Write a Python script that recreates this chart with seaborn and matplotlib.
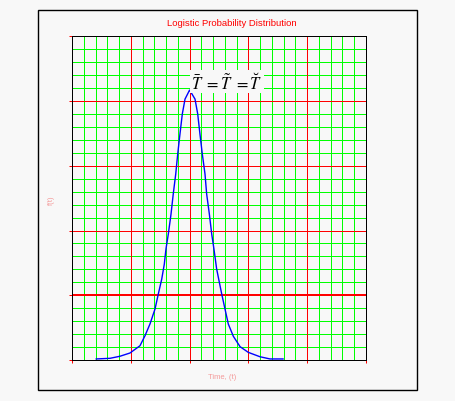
import matplotlib
matplotlib.use("Agg")
import matplotlib.pyplot as plt
from matplotlib.patches import Rectangle
from matplotlib.ticker import MultipleLocator, NullFormatter, NullLocator
import seaborn as sns
import pandas as pd
import numpy as np

# Data
time_t = [20.4, 32.3, 40.8, 49.3, 57.8, 62.1, 66.3, 70.6, 73.4, 76.3, 78.5, 79.9,
          81.9, 84.2, 86.1, 88.2, 89.9, 91.8, 93.8, 96.1, 100.0,
          104.6, 106.9, 108.8, 110.8, 113.1, 114.5, 116.8, 118.8, 120.7, 123.0,
          127.3, 130.1, 132.9, 137.2, 142.9, 149.9, 159.9, 168.4, 179.7]
f_t = [0.00008, 0.00013, 0.00029, 0.00054, 0.00110, 0.00188, 0.00278, 0.00394,
       0.00510, 0.00625, 0.00741, 0.00857, 0.00973, 0.01127, 0.01282, 0.01436,
       0.01591, 0.01745, 0.01900, 0.02015, 0.02085,
       0.02015, 0.01900, 0.01745, 0.01591, 0.01436, 0.01282, 0.01127, 0.00973,
       0.00857, 0.00703, 0.00510, 0.00394, 0.00278, 0.00183, 0.00103, 0.00059,
       0.00025, 0.00008, 0.00008]
title_text = "Logistic Probability Distribution"
x_label = "Time, (t)"
y_label = "f(t)"
annot_text = r"$\bar{T}\ =\tilde{T}\ =\breve{T}$"

sns.set_style("white")
plt.rcParams["font.family"] = ["Liberation Sans", "DejaVu Sans"]
plt.rcParams["mathtext.fontset"] = "stix"

BG = "#f8f8f8"
PX = 0.72  # one pixel in points at 100 dpi
fig = plt.figure(figsize=(4.55, 4.02), dpi=100, facecolor=BG)
ax = fig.add_axes([72 / 455, 1 - 361 / 402, 294 / 455, 323.7 / 402])
ax.set_facecolor(BG)

df = pd.DataFrame({"t": time_t, "f": f_t})
sns.lineplot(data=df, x="t", y="f", ax=ax, color="#0000ff", linewidth=1.0,
             zorder=3)
ax.set_xlabel("")
ax.set_ylabel("")

X0, X1, Y0, Y1 = 0, 250, 0, 0.025
ax.set_xlim(X0, X1)
ax.set_ylim(Y0, Y1)
ax.grid(False)

# minor (green) and major (red) grid, snapped to pixels
xs_minor = np.arange(10, 250, 10)
ys_minor = np.arange(1, 25) * 0.001
xs_major = np.arange(50, 250, 50)
ys_major = np.arange(1, 5) * 0.005
for x in xs_minor:
    if x % 50 != 0:
        ax.axvline(x, color="#00ff00", linewidth=PX, zorder=1, snap=True)
for i, y in enumerate(ys_minor):
    if (i + 1) % 5 != 0:
        ax.axhline(y, color="#00ff00", linewidth=PX, zorder=1, snap=True)
for x in xs_major:
    ax.axvline(x, color="#ff0000", linewidth=PX, zorder=1.2, snap=True)
for y in ys_major:
    ax.axhline(y, color="#ff0000", linewidth=PX, zorder=1.2, snap=True)
ax.axhline(0.005, color="#ff0000", linewidth=2 * PX, zorder=1.5, snap=True)

ax.xaxis.set_major_locator(MultipleLocator(50))
ax.yaxis.set_major_locator(MultipleLocator(0.005))
ax.xaxis.set_minor_locator(NullLocator())
ax.yaxis.set_minor_locator(NullLocator())
ax.xaxis.set_major_formatter(NullFormatter())
ax.yaxis.set_major_formatter(NullFormatter())
ax.tick_params(which="major", length=2.5, width=PX, color="#ff0000",
               bottom=True, left=True, top=False, right=False)

for s in ax.spines.values():
    s.set_color("black")
    s.set_linewidth(PX)
    s.set_visible(True)
    s.set_zorder(5)
    s.set_snap(True)

ax.text(131.5, 0.02150, annot_text, fontsize=12, ha="center", va="center",
        color="black", zorder=4,
        bbox=dict(facecolor=BG, edgecolor="none", pad=1.0))

fig.text(231.7 / 455, 1 - 24 / 402, title_text, color="#ff0000",
         fontsize=6.8, ha="center", va="center")
fig.text(222 / 455, 1 - 378 / 402, x_label, color="#f49a9a",
         fontsize=5.5, ha="center", va="center")
fig.text(51.7 / 455, 1 - 200 / 402, y_label, color="#f49a9a",
         fontsize=5.5, ha="center", va="center", rotation=90)

fig.patches.append(Rectangle((38 / 455, 1 - 391 / 402), 379 / 455, 380 / 402,
                             transform=fig.transFigure, fill=False,
                             edgecolor="black", linewidth=1.0, snap=True))

fig.savefig("out.png", dpi=100, facecolor=BG)
